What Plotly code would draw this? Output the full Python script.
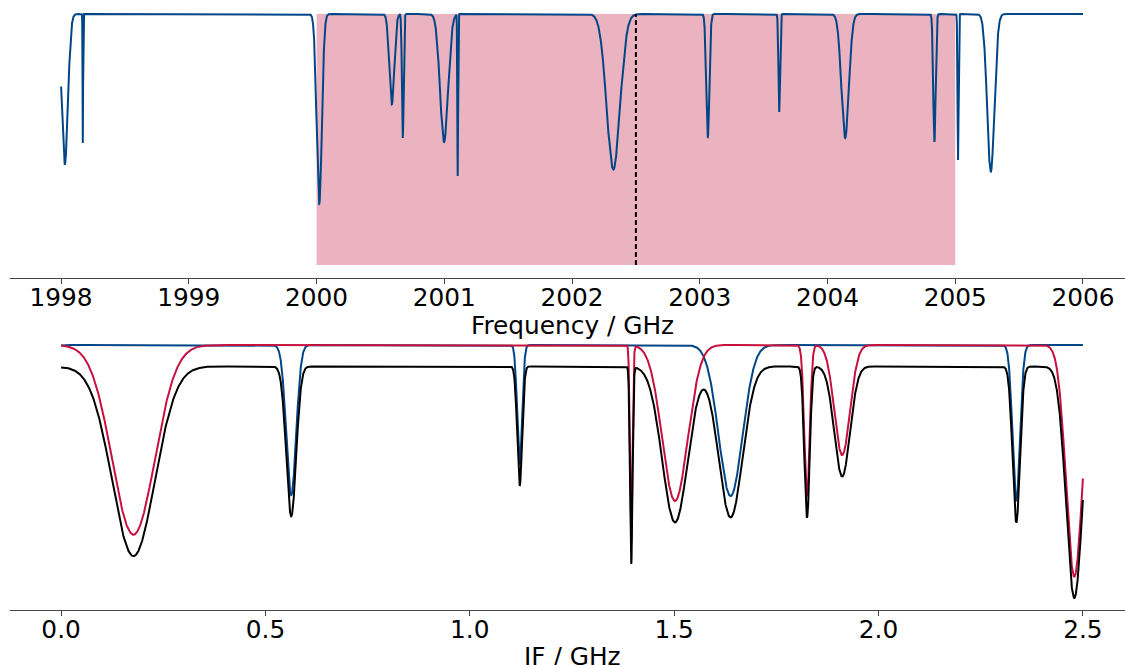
import numpy as np
import plotly.graph_objects as go

# ---- data: absorption line catalogue (sky frequency GHz, depth, gaussian sigma GHz)
line_freq = [1998.029, 1998.17, 2000.021, 2000.589, 2000.675, 2000.998, 2001.105,
             2002.323, 2003.063, 2003.622, 2004.138, 2004.837, 2005.022, 2005.278]
line_depth = [0.60, 0.514, 0.757, 0.36, 0.494, 0.51, 0.645,
              0.62, 0.49, 0.39, 0.494, 0.51, 0.582, 0.63]
line_sigma = [0.024, 0.002, 0.020, 0.019, 0.0065, 0.031, 0.003,
              0.052, 0.012, 0.006, 0.029, 0.009, 0.004, 0.028]

lo_freq = 2002.5          # local oscillator (dashed line)
if_max = 2.5              # IF bandwidth
freq_span = [1998.0, 2006.0]
dsb_offset = 0.07         # vertical offset of combined (black) curve

freq_ticks = [1998, 1999, 2000, 2001, 2002, 2003, 2004, 2005, 2006]
if_ticks = [0.0, 0.5, 1.0, 1.5, 2.0, 2.5]

BLUE = "#004687"
RED = "#c8103e"
PINK = "#ebb2bf"
FONT = "DejaVu Sans"
FSIZE = 24.8


def transmission(f):
    f = np.asarray(f, dtype=float)
    t = np.ones_like(f)
    for f0, d, s in zip(line_freq, line_depth, line_sigma):
        t *= 1.0 - d * np.exp(-0.5 * ((f - f0) / s) ** 2)
    return t


freq = np.linspace(freq_span[0], freq_span[1], 40001)
spec = transmission(freq)

ifreq = np.linspace(0.0, if_max, 12501)
usb = transmission(lo_freq + ifreq)
lsb = transmission(lo_freq - ifreq)
dsb = usb * lsb - dsb_offset

fig = go.Figure()

fig.add_shape(type="rect", xref="x", yref="y", x0=lo_freq - if_max, x1=lo_freq + if_max,
              y0=0, y1=1, fillcolor=PINK, line=dict(width=0), layer="below")

fig.add_trace(go.Scatter(x=freq, y=spec, mode="lines", line=dict(color=BLUE, width=2),
                         xaxis="x", yaxis="y", showlegend=False, hoverinfo="skip"))
fig.add_trace(go.Scatter(x=[lo_freq, lo_freq], y=[0, 1], mode="lines",
                         line=dict(color="black", width=2, dash="5px,3px"),
                         xaxis="x", yaxis="y", showlegend=False, hoverinfo="skip"))

fig.add_trace(go.Scatter(x=ifreq, y=usb, mode="lines", line=dict(color=BLUE, width=2),
                         xaxis="x2", yaxis="y2", showlegend=False, hoverinfo="skip"))
fig.add_trace(go.Scatter(x=ifreq, y=lsb, mode="lines", line=dict(color=RED, width=2),
                         xaxis="x2", yaxis="y2", showlegend=False, hoverinfo="skip"))
fig.add_trace(go.Scatter(x=ifreq, y=dsb, mode="lines", line=dict(color="black", width=2),
                         xaxis="x2", yaxis="y2", showlegend=False, hoverinfo="skip"))

axis_common = dict(showline=True, linecolor="#444", linewidth=1, ticks="outside",
                   ticklen=5, tickwidth=1, tickcolor="#444", showgrid=False,
                   zeroline=False, ticklabelstandoff=-7,
                   tickfont=dict(family=FONT, size=FSIZE, color="black"))

title_font = dict(family=FONT, size=FSIZE, color="black")

fig.update_layout(
    width=1125, height=665,
    margin=dict(l=0, r=0, t=0, b=0),
    paper_bgcolor="white", plot_bgcolor="white",
    xaxis=dict(domain=[10 / 1125, 1], range=[1997.6, 2006.329], anchor="y",
               tickvals=freq_ticks, **axis_common),
    yaxis=dict(domain=[0.5827, 0.9978], range=[-0.05, 1.05], visible=False),
    xaxis2=dict(domain=[10 / 1125, 1], range=[-0.125, 2.603], anchor="y2",
                tickvals=if_ticks, ticktext=[f"{v:.1f}" for v in if_ticks], **axis_common),
    yaxis2=dict(domain=[0.0833, 0.5002], range=[0.1353, 1.0412], visible=False),
    annotations=[
        dict(text="Frequency / GHz", xref="paper", yref="paper", x=572 / 1125,
             y=1 - 325 / 665, xanchor="center", yanchor="middle",
             showarrow=False, font=title_font),
        dict(text="IF / GHz", xref="paper", yref="paper", x=572 / 1125,
             y=1 - 656 / 665, xanchor="center", yanchor="middle",
             showarrow=False, font=title_font),
    ],
)

fig.write_html("out.html")
